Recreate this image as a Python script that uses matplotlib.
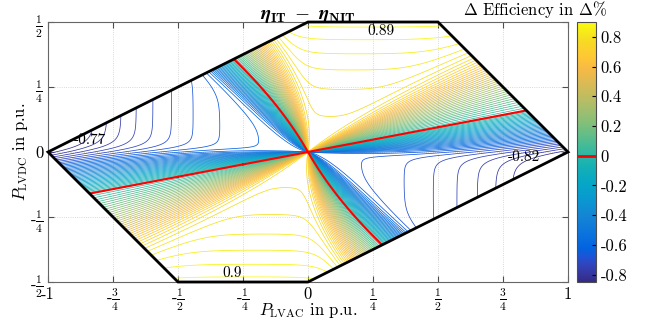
import numpy as np
import matplotlib.pyplot as plt
from matplotlib.colors import LinearSegmentedColormap, Normalize
from matplotlib.cm import ScalarMappable
from matplotlib.patches import Polygon

plt.rcParams['font.family'] = 'serif'
plt.rcParams['font.serif'] = ['cmr10']
plt.rcParams['mathtext.fontset'] = 'cm'
plt.rcParams['axes.unicode_minus'] = False
plt.rcParams['axes.formatter.use_mathtext'] = True

# Betriebsbereich (Sechseck) in p.u.
hex_x = [-1.0, 0.0, 0.5, 1.0, 0.0, -0.5]
hex_y = [0.0, 0.5, 0.5, 0.0, -0.5, -0.5]

# Null-Linien
zero_slope = 0.19                    # gerade rote Linie: y = 0.19 x
curve_a, curve_b = -0.566, -0.649    # gekruemmte rote Linie: x = a*y + b*y*|y|

# Faecherbreiten (positive Seite, negative Seite)
w_line = [0.34, 0.19]
w_curve = [0.48, 0.26]
fan_spread = [0.15, 0.6]             # Aufweitung des negativen Faechers zum Ursprung hin (r0, k)

# Plateauwerte
pos_coef = [0.76, 0.047, 0.51]       # oben/unten: c0 + c1*|y| + c2*y^2
neg_left = [0.61, 0.31]              # links: a + b*x^2
neg_right = [0.66, 0.26]             # rechts: a + b*x^2

levels = np.linspace(-0.82, 0.90, 70)
cbar_ticks = [-0.8, -0.6, -0.4, -0.2, 0, 0.2, 0.4, 0.6, 0.8]
cbar_labels = ['-0.8', '-0.6', '-0.4', '-0.2', '0', '0.2', '0.4', '0.6', '0.8']
x_ticks = [-1, -0.75, -0.5, -0.25, 0, 0.25, 0.5, 0.75, 1]
x_labels = ['-1', r'-$\frac{3}{4}$', r'-$\frac{1}{2}$', r'-$\frac{1}{4}$', '0',
            r'$\frac{1}{4}$', r'$\frac{1}{2}$', r'$\frac{3}{4}$', '1']
y_ticks = [-0.5, -0.25, 0, 0.25, 0.5]
y_labels = [r'-$\frac{1}{2}$', r'-$\frac{1}{4}$', '0', r'$\frac{1}{4}$', r'$\frac{1}{2}$']

peak_text = ['-0.77', '0.89', '-0.82', '0.9']
peak_x = [-0.84, 0.28, 0.83, -0.29]
peak_y = [0.045, 0.465, -0.02, -0.465]

# parula-Stuetzstellen
parula = [(0.2081, 0.1663, 0.5292), (0.1959, 0.2645, 0.7279), (0.1253, 0.3242, 0.8303),
          (0.0117, 0.3875, 0.8820), (0.0498, 0.4586, 0.8641), (0.0793, 0.5200, 0.8312),
          (0.0343, 0.5966, 0.8199), (0.0228, 0.6535, 0.7768), (0.0843, 0.6928, 0.7062),
          (0.2178, 0.7250, 0.6193), (0.3953, 0.7459, 0.5244), (0.5709, 0.7485, 0.4494),
          (0.7184, 0.7411, 0.3905), (0.8507, 0.7299, 0.3360), (0.9739, 0.7314, 0.2666),
          (0.9955, 0.7861, 0.1967), (0.9626, 0.8705, 0.1309), (0.9763, 0.9831, 0.0538)]
parula_pos = [0, 4, 6, 8, 12, 16, 20, 24, 28, 32, 36, 40, 44, 48, 52, 55, 59, 63]
cmap = LinearSegmentedColormap.from_list('parula', [(p / 63, c) for p, c in zip(parula_pos, parula)])
norm = Normalize(vmin=-0.85, vmax=0.90)


def sat(z):
    return z / (1 + z**8) ** 0.125


# Feld berechnen
x = np.linspace(-1, 1, 801)
y = np.linspace(-0.5, 0.5, 401)
X, Y = np.meshgrid(x, y)
rho = np.hypot(X, Y) + 1e-9
u = (Y - zero_slope * X) / np.sqrt(1 + zero_slope**2)
v = (X - curve_a * Y - curve_b * Y * np.abs(Y)) / np.sqrt(1 + curve_a**2)
pos = u * v > 0
spread = ((0.5 + fan_spread[0]) / (rho + fan_spread[0])) ** fan_spread[1]
su = np.where(pos, sat(np.abs(u) / (w_line[0] * rho)), sat(np.abs(u) / (w_line[1] * rho)))
sv = np.where(pos, sat(np.abs(v) / (w_curve[0] * rho)), sat(np.abs(v) / (w_curve[1] * spread * rho)))
m_pos = pos_coef[0] + pos_coef[1] * np.abs(Y) + pos_coef[2] * Y**2
m_neg = np.where(X < 0, neg_left[0] + neg_left[1] * X**2, neg_right[0] + neg_right[1] * X**2)
Z = np.where(pos, m_pos, -m_neg) * su * sv

fig = plt.figure(figsize=(6.45, 3.27), dpi=100)
ax = fig.add_axes([48 / 645, 45 / 327, 520 / 645, 260 / 327])

cs = ax.contour(X, Y, Z, levels=levels, cmap=cmap, norm=norm, linewidths=0.55)
cz = ax.contour(X, Y, Z, levels=[0], colors='red', linewidths=1.5)
hexagon = list(zip(hex_x, hex_y))
for c in (cs, cz):
    clip = Polygon(hexagon, closed=True, transform=ax.transData)
    c.set_clip_path(clip)
ax.add_patch(Polygon(hexagon, closed=True, fill=False, ec='black', lw=2, zorder=5, clip_on=False))

for t, px, py in zip(peak_text, peak_x, peak_y):
    ax.text(px, py, t, fontsize=11, ha='center', va='center', zorder=6)

ax.set_xlim(-1, 1)
ax.set_ylim(-0.5, 0.5)
ax.set_xticks(x_ticks)
ax.set_xticklabels(x_labels, fontsize=12)
ax.set_yticks(y_ticks)
ax.set_yticklabels(y_labels, fontsize=12)
ax.tick_params(direction='in', top=True, right=True, length=4, color='0.3')
for s in ax.spines.values():
    s.set_color('0.4')
ax.grid(True, linestyle=':', color='0.8', linewidth=0.6)
ax.set_axisbelow(True)

ax.set_xlabel(r'$P_{\mathrm{LVAC}}$ in p.u.', fontsize=12)
ax.set_ylabel(r'$P_{\mathrm{LVDC}}$ in p.u.', fontsize=12)
ax.xaxis.set_label_coords(0.5, -0.075)
ax.yaxis.set_label_coords(-0.035, 0.5)
ax.set_title(r'$\boldsymbol{\eta}_{\mathbf{IT}}\;-\;\boldsymbol{\eta}_{\mathbf{NIT}}$', fontsize=14, pad=2)

cax = fig.add_axes([577 / 645, 45 / 327, 19 / 645, 260 / 327])
cb = fig.colorbar(ScalarMappable(norm=norm, cmap=cmap), cax=cax, ticks=cbar_ticks)
cb.ax.set_yticklabels(cbar_labels, fontsize=12)
cb.ax.tick_params(direction='in', length=3)
cb.ax.axhline(0, color='red', lw=2)
cb.outline.set_edgecolor('0.3')
fig.text(607 / 645, 1 - 10 / 327, r'$\Delta$ Efficiency in $\Delta$%', ha='right', va='center', fontsize=12)

fig.savefig('out.png', dpi=100)
